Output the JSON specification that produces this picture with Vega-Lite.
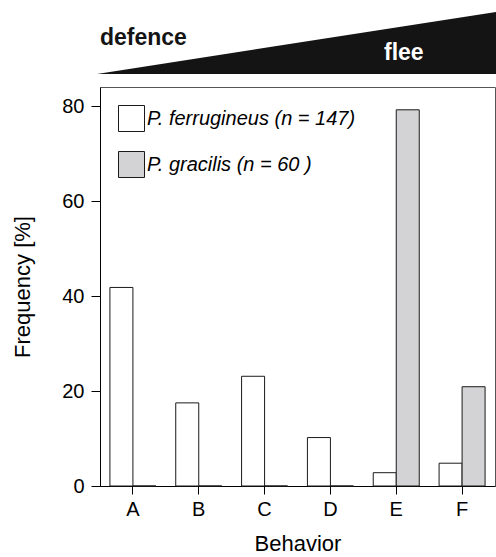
{
  "$schema": "https://vega.github.io/schema/vega-lite/v6.json",
  "width": 395,
  "height": 399,
  "autosize": "none",
  "padding": {"left": 100, "top": 87, "right": 1, "bottom": 71},
  "background": "white",
  "config": {
    "font": "Liberation Sans",
    "view": {"stroke": "#555555", "strokeWidth": 1},
    "axis": {"labelColor": "black", "titleColor": "black", "tickColor": "black", "domainColor": "black", "grid": false, "titleFontWeight": "normal"}
  },
  "layer": [
    {
      "data": {
        "values": [
          {"behavior": "A", "species": "P. ferrugineus (n = 147)", "freq": 41.8},
          {"behavior": "A", "species": "P. gracilis (n = 60 )", "freq": 0},
          {"behavior": "B", "species": "P. ferrugineus (n = 147)", "freq": 17.5},
          {"behavior": "B", "species": "P. gracilis (n = 60 )", "freq": 0},
          {"behavior": "C", "species": "P. ferrugineus (n = 147)", "freq": 23.1},
          {"behavior": "C", "species": "P. gracilis (n = 60 )", "freq": 0},
          {"behavior": "D", "species": "P. ferrugineus (n = 147)", "freq": 10.2},
          {"behavior": "D", "species": "P. gracilis (n = 60 )", "freq": 0},
          {"behavior": "E", "species": "P. ferrugineus (n = 147)", "freq": 2.8},
          {"behavior": "E", "species": "P. gracilis (n = 60 )", "freq": 79.2},
          {"behavior": "F", "species": "P. ferrugineus (n = 147)", "freq": 4.8},
          {"behavior": "F", "species": "P. gracilis (n = 60 )", "freq": 20.9}
        ]
      },
      "mark": {"type": "bar", "stroke": "#1a1a1a", "strokeWidth": 1},
      "encoding": {
        "x": {
          "field": "behavior", "type": "nominal",
          "scale": {"paddingInner": 0, "paddingOuter": 0},
          "axis": {"title": "Behavior", "titleFontSize": 22, "titlePadding": 14, "labelFontSize": 20, "labelAngle": 0, "labelPadding": 5, "tickSize": 8}
        },
        "xOffset": {
          "field": "species", "type": "nominal",
          "sort": ["P. ferrugineus (n = 147)", "P. gracilis (n = 60 )"],
          "scale": {"paddingInner": 0, "paddingOuter": 0.431}
        },
        "y": {
          "field": "freq", "type": "quantitative",
          "scale": {"domain": [0, 84], "nice": false, "zero": true},
          "axis": {"title": "Frequency [%]", "titleFontSize": 22, "titlePadding": 27, "labelFontSize": 20, "labelPadding": 7, "tickSize": 9, "values": [0, 20, 40, 60, 80]}
        },
        "fill": {
          "field": "species", "type": "nominal",
          "sort": ["P. ferrugineus (n = 147)", "P. gracilis (n = 60 )"],
          "scale": {"range": ["#ffffff", "#d3d3d5"]},
          "legend": {
            "title": null, "orient": "top-left", "offset": 18, "padding": 0,
            "symbolType": "square", "symbolSize": 676, "symbolStrokeColor": "#1a1a1a", "symbolStrokeWidth": 1,
            "labelFontSize": 20, "labelFontStyle": "italic", "labelColor": "black", "labelOffset": 2, "rowPadding": 15, "labelLimit": 400
          }
        }
      }
    },
    {
      "layer": [
        {
          "data": {"values": [{"p": 0, "flee": 0}, {"p": 1, "flee": 1}]},
          "mark": {"type": "area", "color": "#141414", "clip": false},
          "encoding": {
            "x": {"field": "p", "type": "quantitative", "scale": {"domain": [0, 1], "range": [-3, 396], "nice": false}, "axis": null},
            "y": {"field": "flee", "type": "quantitative", "scale": {"domain": [0, 1], "range": [-13, -75], "nice": false}, "axis": null},
            "y2": {"datum": 0}
          }
        },
        {
          "data": {"values": [{"label": "defence"}]},
          "mark": {"type": "text", "align": "left", "baseline": "alphabetic", "fontSize": 23, "fontWeight": "bold", "color": "#141414", "clip": false},
          "encoding": {
            "x": {"datum": 0.0075, "type": "quantitative"},
            "y": {"datum": 0.468, "type": "quantitative"},
            "text": {"field": "label"}
          }
        },
        {
          "data": {"values": [{"label": "flee"}]},
          "mark": {"type": "text", "align": "center", "baseline": "alphabetic", "fontSize": 23, "fontWeight": "bold", "color": "white", "clip": false},
          "encoding": {
            "x": {"datum": 0.769, "type": "quantitative"},
            "y": {"datum": 0.226, "type": "quantitative"},
            "text": {"field": "label"}
          }
        }
      ]
    }
  ],
  "resolve": {"scale": {"x": "independent", "y": "independent", "fill": "independent"}}
}
